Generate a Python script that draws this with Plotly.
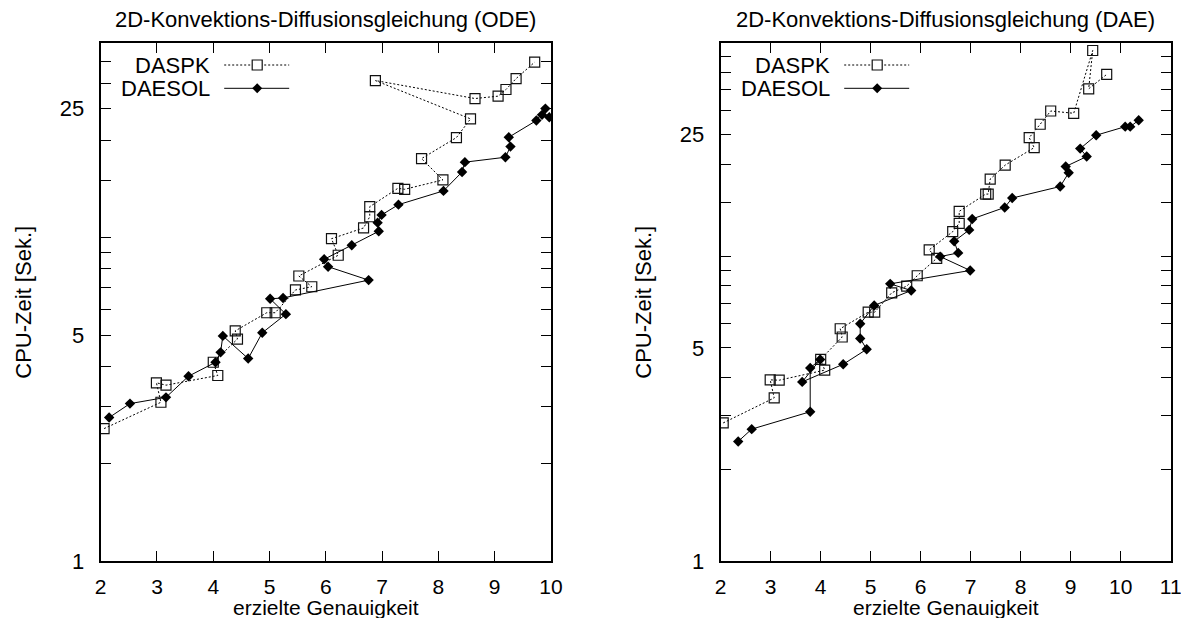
import plotly.graph_objects as go
import math

# ---------------- data ----------------
ode_daspk_x = [2.06, 3.07, 2.99, 3.16, 4.08, 4.00, 4.43, 4.39, 4.95, 5.10, 5.46, 5.75, 5.52, 6.22, 6.10,
               6.67, 6.78, 6.78, 7.28, 7.40, 8.08, 7.70, 8.32, 8.57, 6.88, 8.65, 9.06, 9.20, 9.38, 9.71]
ode_daspk_y = [2.57, 3.10, 3.56, 3.50, 3.75, 4.12, 4.86, 5.15, 5.86, 5.86, 6.89, 7.05, 7.61, 8.82, 9.92,
               10.71, 11.60, 12.46, 14.20, 14.10, 15.07, 17.54, 20.37, 23.27, 30.56, 26.89, 27.35, 28.67, 30.99, 34.84]
ode_daesol_x = [2.15, 2.52, 3.16, 3.56, 4.04, 4.13, 4.17, 4.62, 4.87, 5.29, 5.01, 5.24, 6.76, 6.04, 5.97,
                6.46, 6.94, 6.92, 6.99, 7.29, 8.09, 8.42, 8.47, 9.19, 9.28, 9.25, 9.74, 9.90, 9.84, 9.97]
ode_daesol_y = [2.78, 3.07, 3.21, 3.73, 4.12, 4.42, 4.97, 4.23, 5.08, 5.80, 6.47, 6.51, 7.39, 8.13, 8.57,
                9.47, 10.46, 11.12, 11.75, 12.64, 13.94, 15.95, 17.10, 17.71, 19.10, 20.42, 22.99, 25.03, 23.94, 23.55]

dae_daspk_x = [2.05, 3.07, 2.99, 3.17, 4.08, 4.00, 4.43, 4.39, 4.95, 5.08, 5.42, 5.72, 5.93, 6.32, 6.17,
               6.64, 6.77, 6.77, 7.30, 7.35, 7.39, 7.69, 8.27, 8.17, 8.39, 8.60, 9.06, 9.44, 9.36, 9.72]
dae_daspk_y = [2.84, 3.43, 3.93, 3.92, 4.23, 4.59, 5.43, 5.78, 6.55, 6.55, 7.58, 7.97, 8.62, 9.83, 10.48,
               12.02, 12.80, 14.01, 15.96, 15.96, 17.87, 19.86, 22.66, 24.43, 27.03, 29.87, 29.36, 47.14, 35.32, 39.36]
dae_daesol_x = [2.35, 2.62, 3.79, 3.79, 3.99, 3.63, 4.45, 4.92, 4.79, 4.79, 5.07, 5.81, 5.39, 6.99, 6.39,
                6.75, 6.67, 6.97, 7.03, 7.68, 7.83, 8.79, 8.96, 8.90, 9.32, 9.19, 9.51, 10.09, 10.19, 10.36]
dae_daesol_y = [2.47, 2.71, 3.09, 4.30, 4.58, 3.87, 4.42, 4.95, 5.37, 6.00, 6.89, 7.71, 8.11, 8.97, 9.96,
                10.24, 11.18, 12.18, 13.23, 14.43, 15.49, 16.90, 18.74, 19.65, 21.18, 22.49, 24.88, 26.54, 26.54, 27.85]

titles = ["2D-Konvektions-Diffusionsgleichung (ODE)", "2D-Konvektions-Diffusionsgleichung (DAE)"]
series_names = ["DASPK", "DAESOL"]
x_title = "erzielte Genauigkeit"
y_title = "CPU-Zeit [Sek.]"

left_xticks = [2, 3, 4, 5, 6, 7, 8, 9, 10]
right_xticks = [2, 3, 4, 5, 6, 7, 8, 9, 10, 11]
left_yticks = [1, 2, 3, 4, 5, 6, 7, 8, 9, 10, 15, 20, 25, 30, 35]
right_yticks = [1, 2, 3, 4, 5, 6, 7, 8, 9, 10, 15, 20, 25, 30, 35, 40, 45]
labeled_yticks = [1, 5, 25]

# ---------------- layout helpers ----------------
W, H = 1181, 618
FONT = "Liberation Sans, Arial, Helvetica, sans-serif"
FS = 22
FS_X = 21

def fx(p):
    return p / W

def fy(p):
    return 1 - p / H

plot_top, plot_bot = 42.7, 561.3
left_x0, left_x1 = 100.7, 551.0
right_x0, right_x1 = 720.7, 1170.7

fig = go.Figure()

sq_marker = dict(symbol="square-open", size=10, color="#111111", line=dict(width=1.2, color="#111111"))
di_marker = dict(symbol="diamond", size=8, color="black", line=dict(width=0))
dot_line = dict(color="black", width=1, dash="2px,2px")
solid_line = dict(color="black", width=1)

for (xa, ya, dx, dy, ex, ey) in [
    ("x", "y", ode_daspk_x, ode_daspk_y, ode_daesol_x, ode_daesol_y),
    ("x2", "y2", dae_daspk_x, dae_daspk_y, dae_daesol_x, dae_daesol_y),
]:
    fig.add_trace(go.Scatter(x=dx, y=dy, mode="lines+markers", name=series_names[0],
                             line=dot_line, marker=sq_marker, xaxis=xa, yaxis=ya, showlegend=False))
    fig.add_trace(go.Scatter(x=ex, y=ey, mode="lines+markers", name=series_names[1],
                             line=solid_line, marker=di_marker, xaxis=xa, yaxis=ya, showlegend=False))

def xaxis_cfg(x0, x1, rng, ticks):
    return dict(domain=[fx(x0), fx(x1)], range=rng, tickvals=ticks, ticktext=[str(t) for t in ticks],
                ticks="inside", ticklen=10, tickwidth=1, tickcolor="black",
                showline=True, linewidth=2, linecolor="black", mirror="ticks",
                showgrid=False, zeroline=False, automargin=False,
                ticklabeloverflow="allow",
                tickfont=dict(family=FONT, size=FS_X, color="black"), ticklabelstandoff=5)

def yaxis_cfg(anchor, ymax, ticks):
    return dict(domain=[fy(plot_bot), fy(plot_top)], type="log", range=[0, math.log10(ymax)],
                anchor=anchor, tickvals=ticks,
                ticktext=[str(t) if t in labeled_yticks else "" for t in ticks],
                ticks="inside", ticklen=10, tickwidth=1, tickcolor="black",
                showline=True, linewidth=2, linecolor="black", mirror="ticks",
                showgrid=False, zeroline=False, automargin=False,
                tickfont=dict(family=FONT, size=FS, color="black"), ticklabelstandoff=10)

fig.update_layout(
    width=W, height=H, margin=dict(l=0, r=0, t=0, b=0),
    paper_bgcolor="white", plot_bgcolor="white",
    font=dict(family=FONT, size=FS, color="black"),
    xaxis=xaxis_cfg(left_x0, left_x1, [2, 10], left_xticks),
    yaxis=yaxis_cfg("x", 40, left_yticks),
    xaxis2=dict(xaxis_cfg(right_x0, right_x1, [2, 11], right_xticks), anchor="y2"),
    yaxis2=yaxis_cfg("x2", 50, right_yticks),
    showlegend=False,
)

annotations = []
shapes = []
for x0, x1, title in [(left_x0, left_x1, titles[0]), (right_x0, right_x1, titles[1])]:
    cx = (x0 + x1) / 2
    annotations.append(dict(text=title, x=fx(cx), y=fy(20), xref="paper", yref="paper",
                            xanchor="center", yanchor="middle", showarrow=False,
                            font=dict(family=FONT, size=FS, color="black")))
    annotations.append(dict(text=x_title, x=fx(cx), y=fy(607.5), xref="paper", yref="paper",
                            xanchor="center", yanchor="middle", showarrow=False,
                            font=dict(family=FONT, size=FS_X, color="black")))
    annotations.append(dict(text=y_title, x=fx(x0 - 78), y=fy((plot_top + plot_bot) / 2),
                            xref="paper", yref="paper", textangle=-90,
                            xanchor="center", yanchor="middle", showarrow=False,
                            font=dict(family=FONT, size=FS, color="black")))
    # legend key (gnuplot style: text left, sample right)
    for row, (name, yy) in enumerate([(series_names[0], 65.0), (series_names[1], 88.3)]):
        annotations.append(dict(text=name, x=fx(x0 + 111), y=fy(yy), xref="paper", yref="paper",
                                xanchor="right", yanchor="middle", showarrow=False,
                                font=dict(family=FONT, size=FS, color="black")))
        shapes.append(dict(type="line", xref="paper", yref="paper",
                           x0=fx(x0 + 123.5), x1=fx(x0 + 188.5), y0=fy(yy), y1=fy(yy),
                           line=dot_line if row == 0 else solid_line))
        mx = x0 + 156.5
        if row == 0:
            shapes.append(dict(type="rect", xref="paper", yref="paper",
                               x0=fx(mx - 5), x1=fx(mx + 5), y0=fy(yy + 5), y1=fy(yy - 5),
                               line=dict(color="#111111", width=1.2), fillcolor="white"))
        else:
            path = "M {a},{b} L {c},{d} L {a},{e} L {f},{d} Z".format(
                a=fx(mx), b=fy(yy - 5), c=fx(mx + 5), d=fy(yy), e=fy(yy + 5), f=fx(mx - 5))
            shapes.append(dict(type="path", xref="paper", yref="paper", path=path,
                               fillcolor="black", line=dict(color="black", width=0)))

fig.update_layout(annotations=annotations, shapes=shapes)
fig.write_html("out.html")
